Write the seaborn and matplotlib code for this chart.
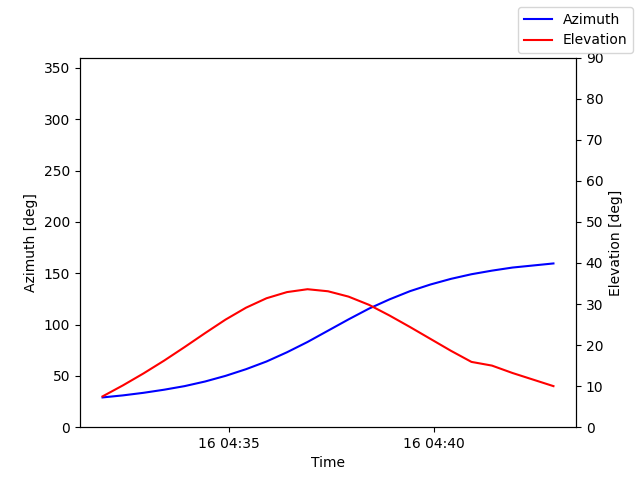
import matplotlib
matplotlib.use("Agg")
import matplotlib.pyplot as plt
import matplotlib.dates as mdates
import seaborn as sns
import pandas as pd

times = pd.date_range("2024-05-16 04:31:55", periods=23, freq="30s")
azimuth = [29, 31, 33.5, 36.5, 40, 44.5, 50, 56.5, 64, 73, 83, 94, 105, 115.5, 124.5,
           132.5, 139, 144.5, 149, 152.5, 155.5, 157.5, 159.5]
elevation = [7.5, 10.2, 13.1, 16.2, 19.5, 22.9, 26.2, 29.1, 31.4, 32.9, 33.6, 33.1,
             31.8, 29.8, 27.2, 24.4, 21.5, 18.6, 15.9, 13.5, 11.3, 9.4, 10.0][:22] + [10.0]
elevation[21] = 11.6
elevation[20] = 13.2
elevation[19] = 15.0

fig, ax = plt.subplots(figsize=(6.4, 4.8), dpi=100)
sns.lineplot(x=times, y=azimuth, ax=ax, color="blue", label="Azimuth", legend=False)
ax.set_ylim(0, 360)
ax.set_ylabel("Azimuth [deg]")
ax.set_xlabel("Time")
ax2 = ax.twinx()
sns.lineplot(x=times, y=elevation, ax=ax2, color="red", label="Elevation", legend=False)
ax2.set_ylim(0, 90)
ax2.set_yticks(range(0, 91, 10))
ax2.set_ylabel("Elevation [deg]")
ax.xaxis.set_major_locator(mdates.MinuteLocator(byminute=[35, 40]))
ax.xaxis.set_major_formatter(mdates.DateFormatter("%d %H:%M"))
fig.legend()
fig.savefig("out.png")
